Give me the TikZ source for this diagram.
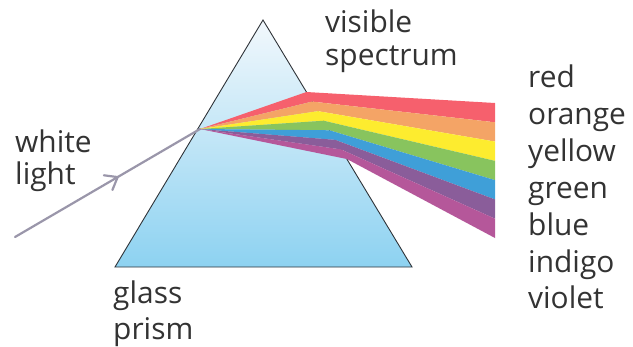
\documentclass[tikz,border=0pt]{standalone}
\usepackage{fontspec}
\setmainfont{Open Sans}
\usetikzlibrary{arrows.meta,decorations.markings,calc}

\definecolor{textgray}{HTML}{333333}
\definecolor{prismtop}{HTML}{F2F8FC}
\definecolor{prismmid}{HTML}{C4E6F6}
\definecolor{prismbot}{HTML}{8DD2F1}
\definecolor{edgegray}{HTML}{2F3338}
\definecolor{raygray}{HTML}{9A96AA}
\definecolor{bandred}{HTML}{F6606D}
\definecolor{bandorange}{HTML}{F4A466}
\definecolor{bandyellow}{HTML}{FDEC2F}
\definecolor{bandgreen}{HTML}{88C45E}
\definecolor{bandblue}{HTML}{3F9FD8}
\definecolor{bandindigo}{HTML}{8A5D9A}
\definecolor{bandviolet}{HTML}{B5579A}

\begin{document}
\begin{tikzpicture}[x=1bp,y=-1bp,
  lbl/.style={font=\fontsize{30}{36}\selectfont, text=textgray,
              inner sep=0pt, anchor=base west},
  prismedge/.style={draw=edgegray, line width=0.9bp, line join=miter},
  ray/.style={draw=raygray, line width=2.2bp, line cap=round,
    postaction={decorate},
    decoration={markings, mark=at position 0.56 with
      {\arrow{Straight Barb[length=11bp, width=17bp, line width=2.2bp, round]}}}}]

\useasboundingbox (0,0) rectangle (633,346);

% the glass prism
\coordinate (apex) at (263,20);
\coordinate (bl) at (115,267);
\coordinate (br) at (412,267);
\shade[top color=prismtop, middle color=prismmid, bottom color=prismbot]
  (apex) -- (bl) -- (br) -- cycle;
\draw[prismedge] (apex) -- (bl) -- (br) -- cycle;

% incoming white light
\coordinate (src) at (15,237);
\coordinate (entry) at (200,129);
\draw[ray] (src) -- (entry);

% dispersed bands: fan inside the prism, then out to the right
\foreach \c [count=\i from 0] in
  {bandred,bandorange,bandyellow,bandgreen,bandblue,bandindigo,bandviolet} {
  \pgfmathsetmacro\ta{(72+\i*67/7)/247}
  \pgfmathsetmacro\tb{(72+(\i+1)*67/7)/247}
  \pgfmathsetmacro\ya{103+\i*135/7}
  \pgfmathsetmacro\yb{103+(\i+1)*135/7}
  \fill[\c] (entry) -- ($(apex)!\ta!(br)$) -- (495,\ya) -- (495,\yb)
    -- ($(apex)!\tb!(br)$) -- cycle;
}

% labels
\node[lbl] (visible) at (325,32) {visible};
\node[lbl] (spectrum) at (325,65) {spectrum};
\node[lbl] (white) at (15,152) {white};
\node[lbl] (light) at (15,184) {light};
\node[lbl] (glass) at (113,303) {glass};
\node[lbl] (prism) at (113,339) {prism};

\node[lbl] (red) at (528,87) {red};
\node[lbl] (orange) at (528,124) {orange};
\node[lbl] (yellow) at (528,161) {yellow};
\node[lbl] (green) at (528,198) {green};
\node[lbl] (blue) at (528,235) {blue};
\node[lbl] (indigo) at (528,272) {indigo};
\node[lbl] (violet) at (528,308) {violet};
\end{tikzpicture}
\end{document}
